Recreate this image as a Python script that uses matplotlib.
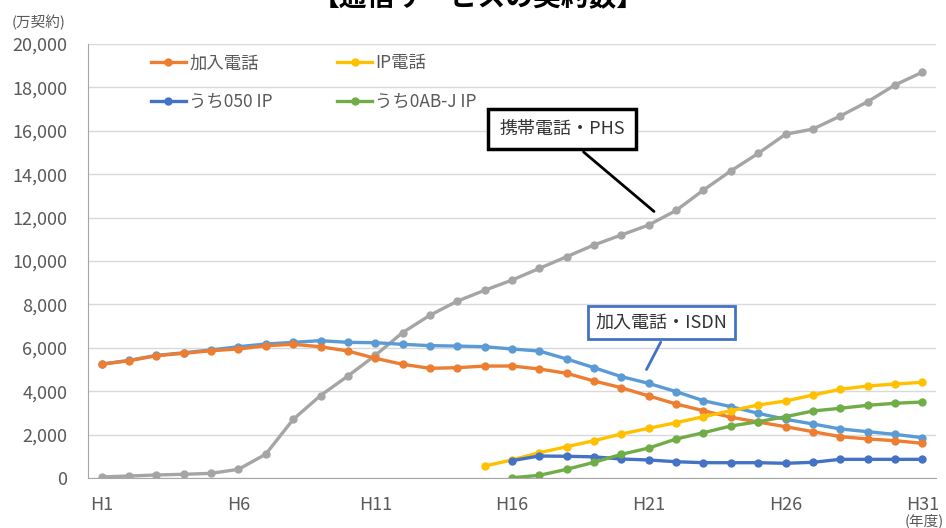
import numpy as np
import matplotlib.pyplot as plt

plt.rcParams['font.family'] = ['Noto Sans CJK JP', 'DejaVu Sans']

#%% data (万契約), H1..H31
nan = np.nan
years = [f'H{i}' for i in range(1, 32)]
tick_years = ['H1', 'H6', 'H11', 'H16', 'H21', 'H26', 'H31']

mobile_phs = [50, 90, 140, 170, 215, 400, 1100, 2700, 3800, 4700, 5650, 6700, 7500, 8150,
              8650, 9120, 9660, 10200, 10740, 11200, 11660, 12330, 13270, 14150, 14960,
              15840, 16080, 16680, 17340, 18110, 18700]
fixed_isdn = [5250, 5420, 5650, 5770, 5900, 6050, 6175, 6250, 6330, 6250, 6235, 6160, 6100,
              6080, 6050, 5945, 5850, 5484, 5083, 4670, 4360, 3980, 3560, 3290, 2980,
              2705, 2490, 2260, 2135, 2010, 1860]
fixed = [5240, 5405, 5636, 5745, 5866, 5945, 6097, 6160, 6050, 5852, 5515, 5240, 5055,
         5083, 5160, 5160, 5023, 4824, 4470, 4160, 3780, 3410, 3100, 2800, 2580,
         2365, 2135, 1905, 1800, 1720, 1600]
ip_phone = [nan] * 14 + [553, 830, 1166, 1443, 1720, 2028, 2290, 2550, 2825, 3100, 3364,
                         3548, 3825, 4087, 4240, 4330, 4410]
ip_050 = [nan] * 15 + [800, 1014, 1000, 975, 875, 830, 750, 705, 705, 705, 677, 723,
                       860, 860, 860, 860]
ip_0abj = [nan] * 15 + [10, 124, 400, 723, 1092, 1382, 1797, 2088, 2396, 2594, 2825,
                        3088, 3212, 3350, 3442, 3502]

#%% plotting
x = np.arange(len(years))
fig = plt.figure(figsize=(9.46, 5.28), dpi=100)
ax = fig.add_axes([88 / 946, 1 - 478 / 528, (936 - 88) / 946, (478 - 44) / 528])

lw, ms = 2.4, 5
ax.plot(x, mobile_phs, color='#A5A5A5', lw=lw, marker='o', ms=ms)
ax.plot(x, fixed_isdn, color='#5B9BD5', lw=lw, marker='o', ms=ms)
l1, = ax.plot(x, fixed, color='#ED7D31', lw=lw, marker='o', ms=ms, label='加入電話')
l2, = ax.plot(x, ip_phone, color='#FFC000', lw=lw, marker='o', ms=ms, label='IP電話')
l3, = ax.plot(x, ip_050, color='#4472C4', lw=lw, marker='o', ms=ms, label='うち050 IP')
l4, = ax.plot(x, ip_0abj, color='#70AD47', lw=lw, marker='o', ms=ms, label='うち0AB-J IP')

ax.set_xlim(-0.5, 30.5)
ax.set_ylim(0, 20000)
ax.set_yticks(np.arange(0, 20001, 2000))
ax.set_yticklabels([f'{v:,}' for v in range(0, 20001, 2000)])
ax.set_xticks([years.index(t) for t in tick_years])
ax.set_xticklabels(tick_years)
ax.tick_params(length=0, labelsize=13, labelcolor='#595959')
ax.tick_params(axis='y', pad=15)
ax.tick_params(axis='x', pad=13)
ax.grid(axis='y', color='#D9D9D9', lw=1)
ax.set_axisbelow(True)
for s in ['top', 'right']:
    ax.spines[s].set_visible(False)
for s in ['left', 'bottom']:
    ax.spines[s].set_color('#A6A6A6')

# legend filled column-wise -> order so rows read 加入電話/IP電話, 050/0AB-J
leg = ax.legend([l1, l3, l2, l4], [l1.get_label(), l3.get_label(), l2.get_label(), l4.get_label()],
                ncol=2, loc='upper left', bbox_to_anchor=(0.056, 1.012), frameon=False,
                fontsize=12.5, handlelength=2.0, handletextpad=0.2, columnspacing=3.7,
                labelspacing=1.2)
for t in leg.get_texts():
    t.set_color('#595959')

# callouts
ax.annotate('携帯電話・PHS', xy=(20.27, 12200), xytext=(16.83, 16080),
            ha='center', va='center', fontsize=13, color='#333333',
            bbox=dict(boxstyle='square,pad=0.6', fc='white', ec='black', lw=2.5),
            arrowprops=dict(arrowstyle='-', color='black', lw=2, relpos=(0.54, 0)))
ax.annotate('加入電話・ISDN', xy=(19.87, 4885), xytext=(20.47, 7166),
            ha='center', va='center', fontsize=13, color='#333333',
            bbox=dict(boxstyle='square,pad=0.4', fc='white', ec='#4472C4', lw=2),
            arrowprops=dict(arrowstyle='-', color='#4472C4', lw=2, relpos=(0.535, 0)))

fig.text(478 / 946, 1 - 6 / 528, '【通信サービスの契約数】', ha='center', va='baseline',
         fontsize=20, weight='bold')
fig.text(12 / 946, 1 - 22 / 528, '(万契約)', ha='left', va='center', fontsize=10.5,
         color='#595959')
fig.text(905 / 946, 1 - 521 / 528, '(年度)', ha='left', va='center', fontsize=10.5,
         color='#595959')

fig.savefig('out.png', dpi=100)
